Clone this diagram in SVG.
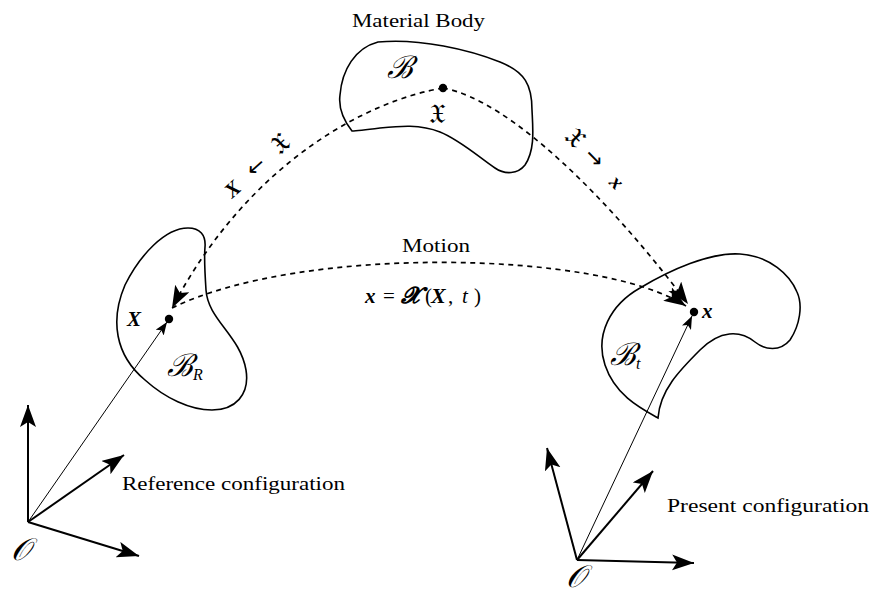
<svg xmlns="http://www.w3.org/2000/svg" width="871" height="595" viewBox="0 0 871 595">
<style>
.body{fill:none;stroke:#000;stroke-width:1.6}
.dash{fill:none;stroke:#000;stroke-width:1.7;stroke-dasharray:5,4.5}
.axis{fill:none;stroke:#000;stroke-width:2}
.pos{fill:none;stroke:#000;stroke-width:1}
text{font-family:"Liberation Serif","DejaVu Serif",serif;fill:#000}
.lbl{font-size:19px}
.math{font-size:21px;font-style:italic}
.bi{font-weight:bold;font-style:italic}
.up{font-style:normal}
.scr{font-size:31px;font-style:italic}
.frak{font-size:27px;font-style:normal}
.arr{font-family:"DejaVu Sans",sans-serif;font-size:22px;font-style:normal;font-weight:normal}
</style>
<defs>
<marker id="big" markerUnits="userSpaceOnUse" markerWidth="24" markerHeight="18" refX="22" refY="8" orient="auto">
<path d="M0,0 L22,8 L0,16 L5,8 Z" fill="#000"/>
</marker>
<marker id="small" markerUnits="userSpaceOnUse" markerWidth="14" markerHeight="10" refX="13" refY="5" orient="auto">
<path d="M0,0 L13,5 L0,10 L3,5 Z" fill="#000"/>
</marker>
</defs>

<g id="material-body">
<path class="body" d="M378,42 C420,38 470,50 500,62 C525,72 532,85 532,110 C533,130 535,150 525,165 C518,174 505,175 495,168 C480,158 460,140 440,132 C420,124 400,126 380,128 C365,130 355,131 352,131 C345,122 338,110 340,95 C342,70 355,48 378,42 Z"/>
<circle cx="443" cy="88" r="4.2" fill="#000"/>
<text class="scr" x="387" y="78">ℬ</text>
<text class="frak" x="429" y="123">𝔛</text>
<text class="lbl" x="352" y="27" textLength="133" lengthAdjust="spacingAndGlyphs">Material Body</text>
</g>

<g id="reference-body">
<path class="body" d="M205,247 C206,235 200,228 188,228 C165,228 140,255 125,285 C110,320 115,355 145,380 C165,398 190,410 212,410 C235,410 250,395 246,370 C240,335 208,320 206,290 C205,275 204,258 205,247 Z"/>
<circle cx="169" cy="319" r="4.2" fill="#000"/>
<text class="math bi" x="127" y="326" font-size="23">X</text>
<text class="scr" x="167" y="376">ℬ<tspan font-size="16" dy="4">R</tspan></text>
</g>

<g id="present-body">
<path class="body" d="M658,418 C640,408 615,395 605,365 C595,335 610,305 640,288 C670,270 710,252 740,254 C770,256 790,275 797,292 C803,305 800,325 790,340 C780,352 765,350 755,342 C740,330 720,330 700,350 C680,370 660,390 658,418 Z"/>
<circle cx="694" cy="312" r="4.2" fill="#000"/>
<text class="math bi" x="702" y="318" font-size="22">x</text>
<text class="scr" x="610" y="365">ℬ<tspan font-size="16" dy="4">t</tspan></text>
</g>

<g id="reference-frame">
<line class="axis" x1="28" y1="522" x2="28" y2="405" marker-end="url(#big)"/>
<line class="axis" x1="28" y1="522" x2="124" y2="455" marker-end="url(#big)"/>
<line class="axis" x1="28" y1="522" x2="139" y2="556" marker-end="url(#big)"/>
<text class="scr" x="11" y="560" font-size="25">𝒪</text>
<text class="lbl" x="122" y="490" textLength="223" lengthAdjust="spacingAndGlyphs">Reference configuration</text>
</g>

<g id="present-frame">
<line class="axis" x1="577" y1="560" x2="547" y2="448" marker-end="url(#big)"/>
<line class="axis" x1="577" y1="560" x2="653" y2="471" marker-end="url(#big)"/>
<line class="axis" x1="577" y1="560" x2="694" y2="563" marker-end="url(#big)"/>
<text class="scr" x="566" y="587" font-size="24">𝒪</text>
<text class="lbl" x="667" y="512" textLength="202" lengthAdjust="spacingAndGlyphs">Present configuration</text>
</g>

<g id="connectors">
<path class="dash" d="M443,88 C370,100 250,160 172,308" marker-end="url(#big)"/>
<path class="dash" d="M443,88 C510,100 610,200 688,304" marker-end="url(#big)"/>
<path class="dash" d="M172,308 C300,245 600,250 686,306" marker-end="url(#big)"/>
<line class="pos" x1="28" y1="522" x2="167" y2="322" marker-end="url(#small)"/>
<line class="pos" x1="577" y1="560" x2="692" y2="316" marker-end="url(#small)"/>
</g>

<g id="labels">
<text class="lbl" x="402" y="252" textLength="68" lengthAdjust="spacingAndGlyphs">Motion</text>
<text class="math" y="303"><tspan class="bi" x="365">x</tspan><tspan class="up" x="383">=</tspan><tspan class="bi" x="401" font-size="23">𝓧</tspan><tspan class="up" x="425">(</tspan><tspan class="bi" x="431" font-size="22">X</tspan><tspan class="up" x="448">,</tspan><tspan x="462">t</tspan><tspan class="up" x="474">)</tspan></text>
<text transform="translate(232,199) rotate(-42)"><tspan class="math bi" x="0" y="0" font-size="23">X</tspan><tspan class="arr" x="30" y="-1">←</tspan><tspan class="frak" x="65" y="0" font-size="24">𝔛</tspan></text>
<text transform="translate(563,138) rotate(45)"><tspan class="frak" x="0" y="0" font-size="24">𝔛</tspan><tspan class="arr" x="27" y="-1">→</tspan><tspan class="math bi" x="64" y="0">x</tspan></text>
</g>
</svg>
